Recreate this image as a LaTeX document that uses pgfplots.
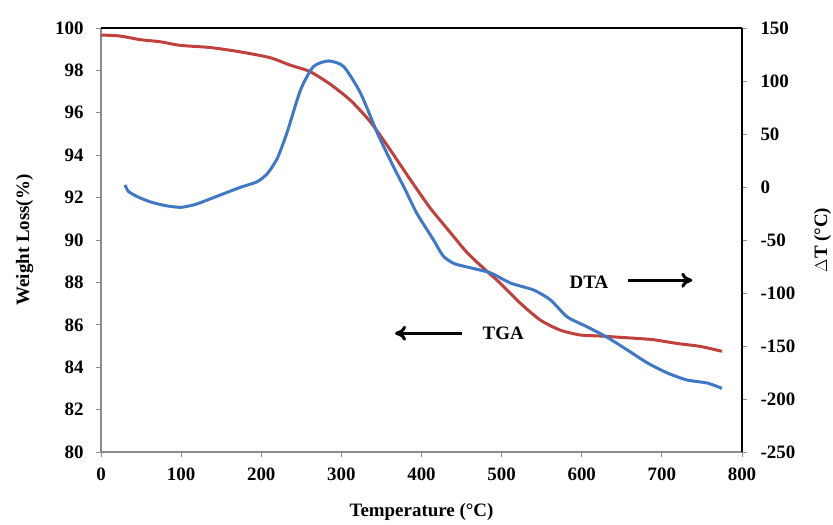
\documentclass[border=0pt]{standalone}
\usepackage{fontspec}
\setmainfont{Liberation Serif}
\usepackage{pgfplots}
\pgfplotsset{compat=1.18}
\usetikzlibrary{arrows.meta,calc}

\definecolor{tgared}{HTML}{C0403C}
\definecolor{dtablue}{HTML}{3F78C4}
\definecolor{axgray}{HTML}{8A8A8A}

\pgfplotstableread{
T W
0 99.67
24 99.62
49 99.45
74 99.35
99 99.18
136 99.08
173 98.88
211 98.60
236 98.25
261 97.94
286 97.35
311 96.60
336 95.58
361 94.25
386 92.85
411 91.50
436 90.35
457 89.40
478 88.65
498 87.97
523 87.03
548 86.23
573 85.75
598 85.52
623 85.47
664 85.37
689 85.30
719 85.12
748 84.98
775 84.75
}\tga

\pgfplotstableread{
T dT
30 2
34 -4
45 -9
61 -13.9
80 -17.5
99 -19.2
115 -17
124 -14.8
149 -7.5
174 -0.3
195 5
208 13
220 27
232 50.9
249 91.5
265 113.5
284 118.9
303 113.5
324 88.4
345 50.7
365 19.2
380 -3
394 -24.6
415 -50
427 -65
440 -72
457 -75.5
486 -81
511 -90.6
540 -97.2
561 -106.6
582 -122.6
607 -132
631 -141.5
657 -153.8
682 -166
707 -175.5
731 -182
757 -185
775 -190
}\dta

\begin{document}
\begin{tikzpicture}
\pgfplotsset{
  every axis/.append style={
    scale only axis, width=641bp, height=424bp,
    xmin=0, xmax=800,
    tick align=outside, major tick length=5bp,
    tick style={axgray, line width=0.8bp},
    /pgf/number format/assume math mode=true,
    tick label style={font=\fontsize{19}{21}\selectfont\bfseries},
    label style={font=\fontsize{19}{21}\selectfont\bfseries},
  }
}
\begin{axis}[
  name=ax,
  axis x line*=bottom, axis y line*=left,
  axis line style={axgray, line width=2bp},
  ymin=80, ymax=100, ytick={80,82,...,100},
  xtick={0,100,...,800},
  yticklabel style={xshift=-9bp},
  xticklabel style={yshift=-7bp},
  xlabel={Temperature (°C)},
  ylabel={Weight Loss(\%)},
  xlabel style={yshift=-16bp},
  ylabel style={yshift=15bp},
  clip=false,
]
\addplot[tgared, line width=3bp, smooth, tension=0.4] table[x=T, y=W] {\tga};
\node[font=\fontsize{19}{21}\selectfont\bfseries] at (axis cs:609,88.0) {DTA};
\draw[-{To[length=11bp,width=15bp]}, line width=3bp] (axis cs:658,88.1) -- (axis cs:738,88.1);
\node[font=\fontsize{19}{21}\selectfont\bfseries] at (axis cs:502,85.6) {TGA};
\draw[-{To[length=11bp,width=15bp]}, line width=3bp] (axis cs:451,85.6) -- (axis cs:367,85.6);
\end{axis}
\begin{axis}[
  axis x line*=top, axis y line*=right,
  axis line style={black, line width=1.5bp},
  xtick=\empty,
  ymin=-250, ymax=150, ytick={-250,-200,...,150},
  yticklabel style={anchor=west, xshift=10bp},
  ylabel={$\Delta$T (°C)},
  ylabel style={yshift=-12bp},
]
\addplot[dtablue, line width=3bp, smooth, tension=0.4] table[x=T, y=dT] {\dta};
\end{axis}
\pgfresetboundingbox
\path[use as bounding box] ($(ax.south west)+(-101bp,-72bp)$) rectangle ($(ax.north east)+(91bp,28bp)$);
\end{tikzpicture}
\end{document}
